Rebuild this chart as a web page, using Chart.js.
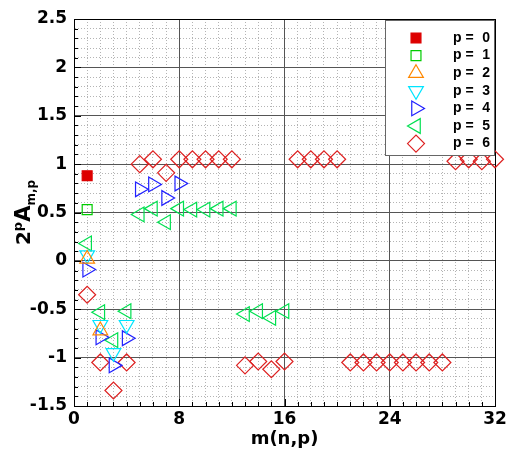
<!DOCTYPE html>
<html>
<head>
<meta charset="utf-8">
<script src="https://cdn.jsdelivr.net/npm/chart.js@4"></script>
<style>
  html, body { margin: 0; padding: 0; background: #fff; }
  #chart { display: block; }
</style>
</head>
<body>
<canvas id="chart" width="507" height="455"></canvas>
<script>
// ---------------------------------------------------------
// DATA
// ---------------------------------------------------------
const xTickLabels = [0, 8, 16, 24, 32];
const yTickLabels = [-1.5, -1, -0.5, 0, 0.5, 1, 1.5, 2, 2.5];
const pValues = [0, 1, 2, 3, 4, 5, 6];

const m0 = [1];
const a0 = [0.88];

const m1 = [1];
const a1 = [0.53];

const m2 = [1, 2];
const a2 = [0.02, -0.72];

const m3 = [1, 2, 3, 4];
const a3 = [0.06, -0.66, -0.95, -0.66];

const m4 = [1, 2, 3, 4, 5, 6, 7, 8];
const a4 = [-0.09, -0.79, -1.08, -0.8, 0.74, 0.79, 0.65, 0.8];

const m5 = [1, 2, 3, 4, 5, 6, 7, 8, 9, 10, 11, 12, 13, 14, 15, 16];
const a5 = [0.18, -0.53, -0.82, -0.52, 0.48, 0.54, 0.4, 0.54, 0.53, 0.53, 0.54, 0.54, -0.55, -0.52, -0.59, -0.52];

const m6 = [1, 2, 3, 4, 5, 6, 7, 8, 9, 10, 11, 12, 13, 14, 15, 16,
            17, 18, 19, 20, 21, 22, 23, 24, 25, 26, 27, 28, 29, 30, 31, 32];
const a6 = [-0.35, -1.05, -1.34, -1.05, 1.0, 1.05, 0.91, 1.05, 1.05, 1.05, 1.05, 1.05, -1.08, -1.04, -1.12, -1.04,
            1.05, 1.05, 1.05, 1.05, -1.05, -1.05, -1.05, -1.05, -1.05, -1.05, -1.05, -1.05, 1.03, 1.05, 1.03, 1.05];

const seriesM = [m0, m1, m2, m3, m4, m5, m6];
const seriesA = [a0, a1, a2, a3, a4, a5, a6];

// marker look per series
const markers = [
  { color: '#dd0000', filled: true, style: 'rect', rot: 0, r: 7 },
  { color: '#00cc00', filled: false, style: 'rect', rot: 0, r: 7 },
  { color: '#ff8800', filled: false, style: 'triangle', rot: 0, r: 8.5 },
  { color: '#00e5ff', filled: false, style: 'triangle', rot: 180, r: 8.5 },
  { color: '#2020ff', filled: false, style: 'triangle', rot: 90, r: 8.5 },
  { color: '#00e050', filled: false, style: 'triangle', rot: 270, r: 8.5 },
  { color: '#dd2020', filled: false, style: 'rectRot', rot: 0, r: 8.5 }
];

const FONT = 'DejaVu Sans';

function isTick(list, v) {
  return list.some(function (t) { return Math.abs(t - v) < 1e-6; });
}
function isMajorY(v) { return Math.abs(v * 2 - Math.round(v * 2)) < 1e-6; }

// ---------------------------------------------------------
// INWARD TICK MARKS ON LEFT / BOTTOM AXES
// ---------------------------------------------------------
const innerTicks = {
  id: 'innerTicks',
  afterDatasetsDraw: function (chart) {
    const ctx = chart.ctx;
    const area = chart.chartArea;
    const xs = chart.scales.x, ys = chart.scales.y;
    ctx.save();
    ctx.strokeStyle = '#000';
    ctx.lineWidth = 1;
    ctx.beginPath();
    xs.ticks.forEach(function (t) {
      const px = Math.round(xs.getPixelForValue(t.value)) + 0.5;
      const len = t.value % 8 === 0 ? 7 : 4;
      ctx.moveTo(px, area.bottom);
      ctx.lineTo(px, area.bottom - len);
    });
    ys.ticks.forEach(function (t) {
      const py = Math.round(ys.getPixelForValue(t.value)) + 0.5;
      const len = isMajorY(t.value) ? 7 : 4;
      ctx.moveTo(area.left, py);
      ctx.lineTo(area.left + len, py);
    });
    ctx.stroke();
    ctx.restore();
  }
};

// ---------------------------------------------------------
// LEGEND BOX (drawn inside the plot, top right)
// ---------------------------------------------------------
const legendBox = {
  id: 'legendBox',
  afterDatasetsDraw: function (chart) {
    const ctx = chart.ctx;
    const area = chart.chartArea;
    const w = 110, h = 136;
    const x0 = area.right - w, y0 = area.top + 1;
    ctx.save();
    ctx.fillStyle = '#fff';
    ctx.fillRect(x0, y0, w, h);
    ctx.strokeStyle = '#666';
    ctx.lineWidth = 1;
    ctx.strokeRect(x0 + 0.5, y0 + 0.5, w - 1, h - 1);
    ctx.font = 'bold 14px "Liberation Sans", Arial, sans-serif';
    ctx.textBaseline = 'middle';
    chart.data.datasets.forEach(function (ds, i) {
      const y = y0 + 18 + i * 17.6;
      ctx.fillStyle = ds.pointBackgroundColor;
      ctx.strokeStyle = ds.pointBorderColor;
      ctx.lineWidth = ds.pointBorderWidth;
      Chart.helpers.drawPoint(ctx, {
        pointStyle: ds.pointStyle,
        rotation: ds.pointRotation,
        radius: ds.pointRadius,
        borderWidth: ds.pointBorderWidth
      }, x0 + 31, y);
      ctx.fillStyle = '#000';
      ctx.textAlign = 'left';
      ctx.fillText('p =', x0 + 68, y);
      ctx.textAlign = 'right';
      ctx.fillText(String(pValues[i]), x0 + 105, y);
    });
    ctx.restore();
  }
};

// ---------------------------------------------------------
// Y AXIS TITLE  2^p A_{m,p}
// ---------------------------------------------------------
const yTitle = {
  id: 'yTitle',
  afterDraw: function (chart) {
    const ctx = chart.ctx;
    const area = chart.chartArea;
    const parts = [
      { t: '2', size: 20, dy: 0 },
      { t: 'p', size: 13, dy: -8 },
      { t: 'A', size: 21, dy: 0 },
      { t: 'm,p', size: 12, dy: 5 }
    ];
    ctx.save();
    ctx.translate(chart.scales.y.left + 23, (area.top + area.bottom) / 2);
    ctx.rotate(-Math.PI / 2);
    ctx.fillStyle = '#000';
    ctx.textBaseline = 'alphabetic';
    ctx.textAlign = 'left';
    let total = 0;
    parts.forEach(function (p) {
      ctx.font = 'bold ' + p.size + 'px "' + FONT + '"';
      p.w = ctx.measureText(p.t).width;
      total += p.w;
    });
    let x = -total / 2;
    parts.forEach(function (p) {
      ctx.font = 'bold ' + p.size + 'px "' + FONT + '"';
      ctx.fillText(p.t, x, 7 + p.dy);
      x += p.w;
    });
    ctx.restore();
  }
};

// ---------------------------------------------------------
// CHART
// ---------------------------------------------------------
const datasets = seriesM.map(function (ms, i) {
  const mk = markers[i];
  return {
    label: 'p = ' + pValues[i],
    data: ms.map(function (m, j) { return { x: m, y: seriesA[i][j] }; }),
    showLine: false,
    pointStyle: mk.style,
    pointRotation: mk.rot,
    pointRadius: mk.r,
    pointHoverRadius: mk.r,
    pointBorderWidth: 1.2,
    pointBorderColor: mk.color,
    pointBackgroundColor: mk.filled ? mk.color : 'rgba(0,0,0,0)',
    clip: false
  };
});

new Chart(document.getElementById('chart'), {
  type: 'scatter',
  data: { datasets: datasets },
  plugins: [innerTicks, legendBox, yTitle],
  options: {
    responsive: false,
    animation: false,
    devicePixelRatio: 1,
    layout: { padding: { left: 0, right: 12, top: 19, bottom: 0 } },
    plugins: {
      legend: { display: false },
      tooltip: { enabled: false }
    },
    scales: {
      x: {
        type: 'linear',
        min: 0,
        max: 32,
        afterFit: function (scale) {
          scale.height = 49;
          scale.paddingLeft = 0;
          scale.paddingRight = 0;
        },
        ticks: {
          stepSize: 1,
          autoSkip: false,
          maxRotation: 0,
          padding: 3,
          color: '#000',
          font: { family: FONT, size: 17, weight: 'bold' },
          callback: function (v) { return isTick(xTickLabels, v) ? String(v) : ''; }
        },
        grid: {
          drawTicks: false,
          lineWidth: 1,
          color: function (c) {
            if (!c.tick) return '#000';
            if (c.tick.value === 0 || c.tick.value === 32) return '#000';
            return c.tick.value % 8 === 0 ? '#555' : '#b4b4b4';
          }
        },
        border: {
          display: true,
          color: '#000',
          width: 1,
          dash: function (c) {
            if (!c.tick) return [];
            return c.tick.value % 8 === 0 ? [] : [1, 2];
          }
        },
        title: {
          display: true,
          text: 'm(n,p)',
          color: '#000',
          font: { family: FONT, size: 18, weight: 'bold' },
          padding: { top: 0, bottom: 5 }
        }
      },
      y: {
        type: 'linear',
        min: -1.5,
        max: 2.5,
        afterFit: function (scale) {
          scale.width = 74;
          scale.paddingTop = 0;
          scale.paddingBottom = 0;
        },
        ticks: {
          stepSize: 0.1,
          autoSkip: false,
          padding: 7,
          color: '#000',
          font: { family: FONT, size: 17, weight: 'bold' },
          callback: function (v) {
            return isTick(yTickLabels, v) ? String(Math.round(v * 10) / 10) : '';
          }
        },
        grid: {
          drawTicks: false,
          lineWidth: 1,
          color: function (c) {
            if (!c.tick) return '#000';
            const v = c.tick.value;
            if (Math.abs(v - 2.5) < 1e-6 || Math.abs(v + 1.5) < 1e-6) return '#000';
            return isMajorY(v) ? '#555' : '#b4b4b4';
          }
        },
        border: {
          display: true,
          color: '#000',
          width: 1,
          dash: function (c) {
            if (!c.tick) return [];
            return isMajorY(c.tick.value) ? [] : [1, 2];
          }
        }
      }
    }
  }
});
</script>
</body>
</html>
